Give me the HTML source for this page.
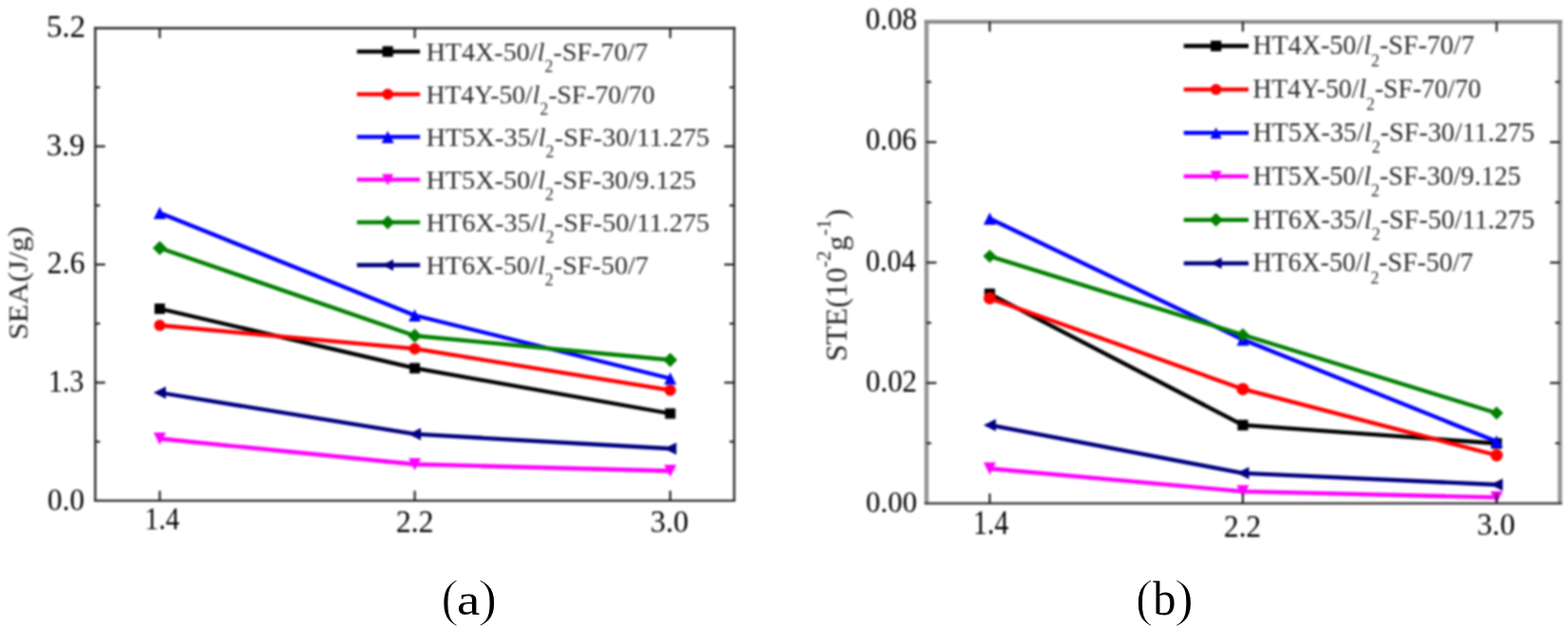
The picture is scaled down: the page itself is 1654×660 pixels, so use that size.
<!DOCTYPE html>
<html><head><meta charset="utf-8"><title>SEA and STE versus parameter</title>
<style>html,body{margin:0;padding:0;background:#fff;overflow:hidden} svg{display:block} #wrap{filter:blur(0.8px)} #cap{position:absolute;left:0;top:0} text{font-family:"Liberation Serif", "Times New Roman", serif}</style>
</head><body>
<div id="wrap"><svg width="1654" height="660" viewBox="0 0 1654 660">
<rect width="1654" height="660" fill="#fff"/>
<polyline points="168.50,325.50 437.50,388.20 707.00,436.00" fill="none" stroke="#000000" stroke-width="4.3" stroke-linejoin="round"/>
<rect x="163.00" y="320.00" width="11.00" height="11.00" fill="#000000"/>
<rect x="432.00" y="382.70" width="11.00" height="11.00" fill="#000000"/>
<rect x="701.50" y="430.50" width="11.00" height="11.00" fill="#000000"/>
<polyline points="168.50,343.00 437.50,367.70 707.00,411.40" fill="none" stroke="#ff0000" stroke-width="4.3" stroke-linejoin="round"/>
<circle cx="168.50" cy="343.00" r="6.00" fill="#ff0000"/>
<circle cx="437.50" cy="367.70" r="6.00" fill="#ff0000"/>
<circle cx="707.00" cy="411.40" r="6.00" fill="#ff0000"/>
<polyline points="168.50,224.50 437.50,332.50 707.00,399.00" fill="none" stroke="#0000ff" stroke-width="4.3" stroke-linejoin="round"/>
<polygon points="168.50,218.00 175.00,231.00 162.00,231.00" fill="#0000ff"/>
<polygon points="437.50,326.00 444.00,339.00 431.00,339.00" fill="#0000ff"/>
<polygon points="707.00,392.50 713.50,405.50 700.50,405.50" fill="#0000ff"/>
<polyline points="168.50,462.50 437.50,489.50 707.00,496.50" fill="none" stroke="#ff00ff" stroke-width="4.3" stroke-linejoin="round"/>
<polygon points="162.00,456.00 175.00,456.00 168.50,469.00" fill="#ff00ff"/>
<polygon points="431.00,483.00 444.00,483.00 437.50,496.00" fill="#ff00ff"/>
<polygon points="700.50,490.00 713.50,490.00 707.00,503.00" fill="#ff00ff"/>
<polyline points="168.50,261.50 437.50,354.00 707.00,379.50" fill="none" stroke="#008000" stroke-width="4.3" stroke-linejoin="round"/>
<polygon points="168.50,254.06 175.94,261.50 168.50,268.94 161.06,261.50" fill="#008000"/>
<polygon points="437.50,346.56 444.94,354.00 437.50,361.44 430.06,354.00" fill="#008000"/>
<polygon points="707.00,372.06 714.44,379.50 707.00,386.94 699.56,379.50" fill="#008000"/>
<polyline points="168.50,414.00 437.50,457.70 707.00,473.00" fill="none" stroke="#000080" stroke-width="4.3" stroke-linejoin="round"/>
<polygon points="162.00,414.00 175.00,407.50 175.00,420.50" fill="#000080"/>
<polygon points="431.00,457.70 444.00,451.20 444.00,464.20" fill="#000080"/>
<polygon points="700.50,473.00 713.50,466.50 713.50,479.50" fill="#000080"/>
<line x1="100.5" y1="28.6" x2="100.5" y2="527.9" stroke="#2a2a2a" stroke-width="2.4"/>
<line x1="774.5" y1="28.6" x2="774.5" y2="527.9" stroke="#2a2a2a" stroke-width="2.4"/>
<line x1="99.3" y1="29.8" x2="775.7" y2="29.8" stroke="#2a2a2a" stroke-width="2.4"/>
<line x1="99.3" y1="527.9" x2="775.7" y2="527.9" stroke="#2a2a2a" stroke-width="2.4"/>
<line x1="168.5" y1="527.9" x2="168.5" y2="517.4" stroke="#222" stroke-width="2.2"/>
<line x1="168.5" y1="29.8" x2="168.5" y2="40.3" stroke="#222" stroke-width="2.2"/>
<line x1="437.5" y1="527.9" x2="437.5" y2="517.4" stroke="#222" stroke-width="2.2"/>
<line x1="437.5" y1="29.8" x2="437.5" y2="40.3" stroke="#222" stroke-width="2.2"/>
<line x1="707.0" y1="527.9" x2="707.0" y2="517.4" stroke="#222" stroke-width="2.2"/>
<line x1="707.0" y1="29.8" x2="707.0" y2="40.3" stroke="#222" stroke-width="2.2"/>
<line x1="100.5" y1="465.65" x2="105.5" y2="465.65" stroke="#222" stroke-width="2.2"/>
<line x1="774.5" y1="465.65" x2="769.5" y2="465.65" stroke="#222" stroke-width="2.2"/>
<line x1="100.5" y1="403.4" x2="111.0" y2="403.4" stroke="#222" stroke-width="2.2"/>
<line x1="774.5" y1="403.4" x2="764.0" y2="403.4" stroke="#222" stroke-width="2.2"/>
<line x1="100.5" y1="341.15" x2="105.5" y2="341.15" stroke="#222" stroke-width="2.2"/>
<line x1="774.5" y1="341.15" x2="769.5" y2="341.15" stroke="#222" stroke-width="2.2"/>
<line x1="100.5" y1="278.9" x2="111.0" y2="278.9" stroke="#222" stroke-width="2.2"/>
<line x1="774.5" y1="278.9" x2="764.0" y2="278.9" stroke="#222" stroke-width="2.2"/>
<line x1="100.5" y1="216.6" x2="105.5" y2="216.6" stroke="#222" stroke-width="2.2"/>
<line x1="774.5" y1="216.6" x2="769.5" y2="216.6" stroke="#222" stroke-width="2.2"/>
<line x1="100.5" y1="154.3" x2="111.0" y2="154.3" stroke="#222" stroke-width="2.2"/>
<line x1="774.5" y1="154.3" x2="764.0" y2="154.3" stroke="#222" stroke-width="2.2"/>
<line x1="100.5" y1="92.05000000000001" x2="105.5" y2="92.05000000000001" stroke="#222" stroke-width="2.2"/>
<line x1="774.5" y1="92.05000000000001" x2="769.5" y2="92.05000000000001" stroke="#222" stroke-width="2.2"/>
<line x1="376.5" y1="54.3" x2="443" y2="54.3" stroke="#000000" stroke-width="4.3"/>
<rect x="403.40" y="48.70" width="11.20" height="11.20" fill="#000000"/>
<line x1="376.5" y1="99.34" x2="443" y2="99.34" stroke="#ff0000" stroke-width="4.3"/>
<circle cx="409.00" cy="99.34" r="5.80" fill="#ff0000"/>
<line x1="376.5" y1="144.38" x2="443" y2="144.38" stroke="#0000ff" stroke-width="4.3"/>
<polygon points="409.00,137.88 415.50,150.88 402.50,150.88" fill="#0000ff"/>
<line x1="376.5" y1="189.42000000000002" x2="443" y2="189.42000000000002" stroke="#ff00ff" stroke-width="4.3"/>
<polygon points="403.00,183.42 415.00,183.42 409.00,195.42" fill="#ff00ff"/>
<line x1="376.5" y1="234.45999999999998" x2="443" y2="234.45999999999998" stroke="#008000" stroke-width="4.3"/>
<polygon points="409.00,227.26 416.20,234.46 409.00,241.66 401.80,234.46" fill="#008000"/>
<line x1="376.5" y1="279.5" x2="443" y2="279.5" stroke="#000080" stroke-width="4.3"/>
<polygon points="403.00,279.50 415.00,273.50 415.00,285.50" fill="#000080"/>
<polyline points="1044.00,309.80 1311.00,448.20 1578.70,467.50" fill="none" stroke="#000000" stroke-width="4.3" stroke-linejoin="round"/>
<rect x="1038.40" y="304.20" width="11.20" height="11.20" fill="#000000"/>
<rect x="1305.40" y="442.60" width="11.20" height="11.20" fill="#000000"/>
<rect x="1573.10" y="461.90" width="11.20" height="11.20" fill="#000000"/>
<polyline points="1044.00,314.50 1311.00,410.20 1578.70,480.00" fill="none" stroke="#ff0000" stroke-width="4.3" stroke-linejoin="round"/>
<circle cx="1044.00" cy="314.50" r="6.50" fill="#ff0000"/>
<circle cx="1311.00" cy="410.20" r="6.50" fill="#ff0000"/>
<circle cx="1578.70" cy="480.00" r="6.50" fill="#ff0000"/>
<polyline points="1044.00,230.50 1311.00,358.00 1578.70,465.50" fill="none" stroke="#0000ff" stroke-width="4.3" stroke-linejoin="round"/>
<polygon points="1044.00,224.00 1050.50,237.00 1037.50,237.00" fill="#0000ff"/>
<polygon points="1311.00,351.50 1317.50,364.50 1304.50,364.50" fill="#0000ff"/>
<polygon points="1578.70,459.00 1585.20,472.00 1572.20,472.00" fill="#0000ff"/>
<polyline points="1044.00,494.00 1311.00,518.10 1578.70,524.40" fill="none" stroke="#ff00ff" stroke-width="4.3" stroke-linejoin="round"/>
<polygon points="1037.50,487.50 1050.50,487.50 1044.00,500.50" fill="#ff00ff"/>
<polygon points="1304.50,511.60 1317.50,511.60 1311.00,524.60" fill="#ff00ff"/>
<polygon points="1572.20,517.90 1585.20,517.90 1578.70,530.90" fill="#ff00ff"/>
<polyline points="1044.00,270.10 1311.00,353.00 1578.70,435.50" fill="none" stroke="#008000" stroke-width="4.3" stroke-linejoin="round"/>
<polygon points="1044.00,263.14 1050.96,270.10 1044.00,277.06 1037.04,270.10" fill="#008000"/>
<polygon points="1311.00,346.04 1317.96,353.00 1311.00,359.96 1304.04,353.00" fill="#008000"/>
<polygon points="1578.70,428.54 1585.66,435.50 1578.70,442.46 1571.74,435.50" fill="#008000"/>
<polyline points="1044.00,448.20 1311.00,498.80 1578.70,511.00" fill="none" stroke="#000080" stroke-width="4.3" stroke-linejoin="round"/>
<polygon points="1037.50,448.20 1050.50,441.70 1050.50,454.70" fill="#000080"/>
<polygon points="1304.50,498.80 1317.50,492.30 1317.50,505.30" fill="#000080"/>
<polygon points="1572.20,511.00 1585.20,504.50 1585.20,517.50" fill="#000080"/>
<line x1="977.3" y1="20.9" x2="977.3" y2="530.8" stroke="#959595" stroke-width="4.5"/>
<line x1="1645.5" y1="20.9" x2="1645.5" y2="530.8" stroke="#959595" stroke-width="4.5"/>
<line x1="975.05" y1="22.9" x2="1647.75" y2="22.9" stroke="#8a8a8a" stroke-width="4"/>
<line x1="975.05" y1="530.8" x2="1647.75" y2="530.8" stroke="#404040" stroke-width="2.6"/>
<line x1="1044.0" y1="530.8" x2="1044.0" y2="520.3" stroke="#222" stroke-width="2.2"/>
<line x1="1044.0" y1="22.9" x2="1044.0" y2="33.4" stroke="#222" stroke-width="2.2"/>
<line x1="1311.0" y1="530.8" x2="1311.0" y2="520.3" stroke="#222" stroke-width="2.2"/>
<line x1="1311.0" y1="22.9" x2="1311.0" y2="33.4" stroke="#222" stroke-width="2.2"/>
<line x1="1578.7" y1="530.8" x2="1578.7" y2="520.3" stroke="#222" stroke-width="2.2"/>
<line x1="1578.7" y1="22.9" x2="1578.7" y2="33.4" stroke="#222" stroke-width="2.2"/>
<line x1="977.3" y1="467.29999999999995" x2="982.3" y2="467.29999999999995" stroke="#222" stroke-width="2.2"/>
<line x1="1645.5" y1="467.29999999999995" x2="1640.5" y2="467.29999999999995" stroke="#222" stroke-width="2.2"/>
<line x1="977.3" y1="403.8" x2="987.8" y2="403.8" stroke="#222" stroke-width="2.2"/>
<line x1="1645.5" y1="403.8" x2="1635.0" y2="403.8" stroke="#222" stroke-width="2.2"/>
<line x1="977.3" y1="340.3" x2="982.3" y2="340.3" stroke="#222" stroke-width="2.2"/>
<line x1="1645.5" y1="340.3" x2="1640.5" y2="340.3" stroke="#222" stroke-width="2.2"/>
<line x1="977.3" y1="276.8" x2="987.8" y2="276.8" stroke="#222" stroke-width="2.2"/>
<line x1="1645.5" y1="276.8" x2="1635.0" y2="276.8" stroke="#222" stroke-width="2.2"/>
<line x1="977.3" y1="213.35000000000002" x2="982.3" y2="213.35000000000002" stroke="#222" stroke-width="2.2"/>
<line x1="1645.5" y1="213.35000000000002" x2="1640.5" y2="213.35000000000002" stroke="#222" stroke-width="2.2"/>
<line x1="977.3" y1="149.9" x2="987.8" y2="149.9" stroke="#222" stroke-width="2.2"/>
<line x1="1645.5" y1="149.9" x2="1635.0" y2="149.9" stroke="#222" stroke-width="2.2"/>
<line x1="977.3" y1="86.4" x2="982.3" y2="86.4" stroke="#222" stroke-width="2.2"/>
<line x1="1645.5" y1="86.4" x2="1640.5" y2="86.4" stroke="#222" stroke-width="2.2"/>
<line x1="1248.7" y1="48.5" x2="1317" y2="48.5" stroke="#000000" stroke-width="4.3"/>
<rect x="1277.10" y="42.90" width="11.20" height="11.20" fill="#000000"/>
<line x1="1248.7" y1="94.32" x2="1317" y2="94.32" stroke="#ff0000" stroke-width="4.3"/>
<circle cx="1282.70" cy="94.32" r="5.80" fill="#ff0000"/>
<line x1="1248.7" y1="140.14" x2="1317" y2="140.14" stroke="#0000ff" stroke-width="4.3"/>
<polygon points="1282.70,134.14 1288.70,146.14 1276.70,146.14" fill="#0000ff"/>
<line x1="1248.7" y1="185.96" x2="1317" y2="185.96" stroke="#ff00ff" stroke-width="4.3"/>
<polygon points="1276.70,179.96 1288.70,179.96 1282.70,191.96" fill="#ff00ff"/>
<line x1="1248.7" y1="231.78" x2="1317" y2="231.78" stroke="#008000" stroke-width="4.3"/>
<polygon points="1282.70,224.58 1289.90,231.78 1282.70,238.98 1275.50,231.78" fill="#008000"/>
<line x1="1248.7" y1="277.6" x2="1317" y2="277.6" stroke="#000080" stroke-width="4.3"/>
<polygon points="1276.70,277.60 1288.70,271.60 1288.70,283.60" fill="#000080"/>
<text transform="matrix(1.0000,0,0,1.0045,48.90,39.10)" font-size="33" fill="#000" >5.2</text>
<text transform="matrix(0.9816,0,0,1.0318,49.04,164.10)" font-size="33" fill="#000" >3.9</text>
<text transform="matrix(0.9615,0,0,1.0045,49.84,288.20)" font-size="33" fill="#000" >2.6</text>
<text transform="matrix(0.9081,0,0,1.0045,51.08,412.90)" font-size="33" fill="#000" >1.3</text>
<text transform="matrix(0.9487,0,0,1.0273,50.05,537.60)" font-size="33" fill="#000" >0.0</text>
<text transform="matrix(0.8816,0,0,1.0136,152.86,558.30)" font-size="33" fill="#000" >1.4</text>
<text transform="matrix(0.9658,0,0,1.0455,417.63,560.90)" font-size="33" fill="#000" >2.2</text>
<text transform="matrix(0.9816,0,0,1.0318,686.04,560.60)" font-size="33" fill="#000" >3.0</text>
<text transform="matrix(1.0061,0,0,0.9935,449.39,64.08)" font-size="28" fill="#2b2b2b" >HT4X-50/<tspan font-style="italic">l</tspan><tspan font-size="17.9" dy="12.0">2</tspan><tspan dy="-12.0">-SF-70/7</tspan></text>
<text transform="matrix(0.9901,0,0,0.9935,449.41,109.12)" font-size="28" fill="#2b2b2b" >HT4Y-50/<tspan font-style="italic">l</tspan><tspan font-size="17.9" dy="12.0">2</tspan><tspan dy="-12.0">-SF-70/70</tspan></text>
<text transform="matrix(1.0147,0,0,0.9935,449.39,154.16)" font-size="28" fill="#2b2b2b" >HT5X-35/<tspan font-style="italic">l</tspan><tspan font-size="17.9" dy="12.0">2</tspan><tspan dy="-12.0">-SF-30/11.275</tspan></text>
<text transform="matrix(1.0104,0,0,0.9935,449.39,199.20)" font-size="28" fill="#2b2b2b" >HT5X-50/<tspan font-style="italic">l</tspan><tspan font-size="17.9" dy="12.0">2</tspan><tspan dy="-12.0">-SF-30/9.125</tspan></text>
<text transform="matrix(1.0147,0,0,0.9935,449.39,244.24)" font-size="28" fill="#2b2b2b" >HT6X-35/<tspan font-style="italic">l</tspan><tspan font-size="17.9" dy="12.0">2</tspan><tspan dy="-12.0">-SF-50/11.275</tspan></text>
<text transform="matrix(1.0082,0,0,0.9935,449.39,289.28)" font-size="28" fill="#2b2b2b" >HT6X-50/<tspan font-style="italic">l</tspan><tspan font-size="17.9" dy="12.0">2</tspan><tspan dy="-12.0">-SF-50/7</tspan></text>
<text transform="matrix(0,-1.0366,0.9483,0,29.36,358.27)" font-size="31" fill="#222" >SEA(J/g)</text>
<text transform="matrix(0.9364,0,0,1.0136,913.06,31.40)" font-size="33" fill="#000" >0.08</text>
<text transform="matrix(0.9250,0,0,0.9909,913.28,158.30)" font-size="33" fill="#000" >0.06</text>
<text transform="matrix(0.9125,0,0,1.0227,913.29,286.00)" font-size="33" fill="#000" >0.04</text>
<text transform="matrix(0.9364,0,0,1.0045,913.26,413.00)" font-size="33" fill="#000" >0.02</text>
<text transform="matrix(0.9364,0,0,0.9773,913.26,539.80)" font-size="33" fill="#000" >0.00</text>
<text transform="matrix(0.9053,0,0,1.0545,1026.48,563.40)" font-size="33" fill="#000" >1.4</text>
<text transform="matrix(0.9526,0,0,1.0364,1291.05,565.80)" font-size="33" fill="#000" >2.2</text>
<text transform="matrix(0.9737,0,0,1.0227,1558.05,563.50)" font-size="33" fill="#000" >3.0</text>
<text transform="matrix(0.9070,0,0,0.9314,1321.39,57.39)" font-size="31" fill="#2b2b2b" >HT4X-50/<tspan font-style="italic">l</tspan><tspan font-size="19.8" dy="13.3">2</tspan><tspan dy="-13.3">-SF-70/7</tspan></text>
<text transform="matrix(0.8933,0,0,0.9314,1321.41,103.21)" font-size="31" fill="#2b2b2b" >HT4Y-50/<tspan font-style="italic">l</tspan><tspan font-size="19.8" dy="13.3">2</tspan><tspan dy="-13.3">-SF-70/70</tspan></text>
<text transform="matrix(0.9117,0,0,0.9314,1321.39,149.03)" font-size="31" fill="#2b2b2b" >HT5X-35/<tspan font-style="italic">l</tspan><tspan font-size="19.8" dy="13.3">2</tspan><tspan dy="-13.3">-SF-30/11.275</tspan></text>
<text transform="matrix(0.9065,0,0,0.9314,1321.39,194.85)" font-size="31" fill="#2b2b2b" >HT5X-50/<tspan font-style="italic">l</tspan><tspan font-size="19.8" dy="13.3">2</tspan><tspan dy="-13.3">-SF-30/9.125</tspan></text>
<text transform="matrix(0.9117,0,0,0.9314,1321.39,240.67)" font-size="31" fill="#2b2b2b" >HT6X-35/<tspan font-style="italic">l</tspan><tspan font-size="19.8" dy="13.3">2</tspan><tspan dy="-13.3">-SF-50/11.275</tspan></text>
<text transform="matrix(0.9023,0,0,0.9314,1321.40,286.49)" font-size="31" fill="#2b2b2b" >HT6X-50/<tspan font-style="italic">l</tspan><tspan font-size="19.8" dy="13.3">2</tspan><tspan dy="-13.3">-SF-50/7</tspan></text>
<text transform="matrix(0,-0.9956,0.9615,0,893.27,381.09)" font-size="32" fill="#222" >STE(10<tspan font-size="21.1" dy="-17.9">-2</tspan><tspan dy="17.9">g</tspan><tspan font-size="21.1" dy="-17.9">-1</tspan><tspan dy="17.9">)</tspan></text>
</svg></div>
<svg id="cap" width="1654" height="660" viewBox="0 0 1654 660">
<text transform="matrix(1.0714,0,0,1.0468,465.16,648.59)" font-size="52" fill="#000" stroke="#fff" stroke-width="1.0">(</text>
<text transform="matrix(1.0500,0,0,0.9083,481.90,648.20)" font-size="52" fill="#000" >a</text>
<text transform="matrix(1.1846,0,0,1.0468,504.03,648.59)" font-size="52" fill="#000" stroke="#fff" stroke-width="1.0">)</text>
<text transform="matrix(1.0714,0,0,1.0362,1197.66,648.70)" font-size="52" fill="#000" stroke="#fff" stroke-width="1.0">(</text>
<text transform="matrix(0.9292,0,0,0.9703,1216.20,648.20)" font-size="52" fill="#000" >b</text>
<text transform="matrix(1.1846,0,0,1.0362,1238.83,648.70)" font-size="52" fill="#000" stroke="#fff" stroke-width="1.0">)</text>
</svg>
</body></html>
